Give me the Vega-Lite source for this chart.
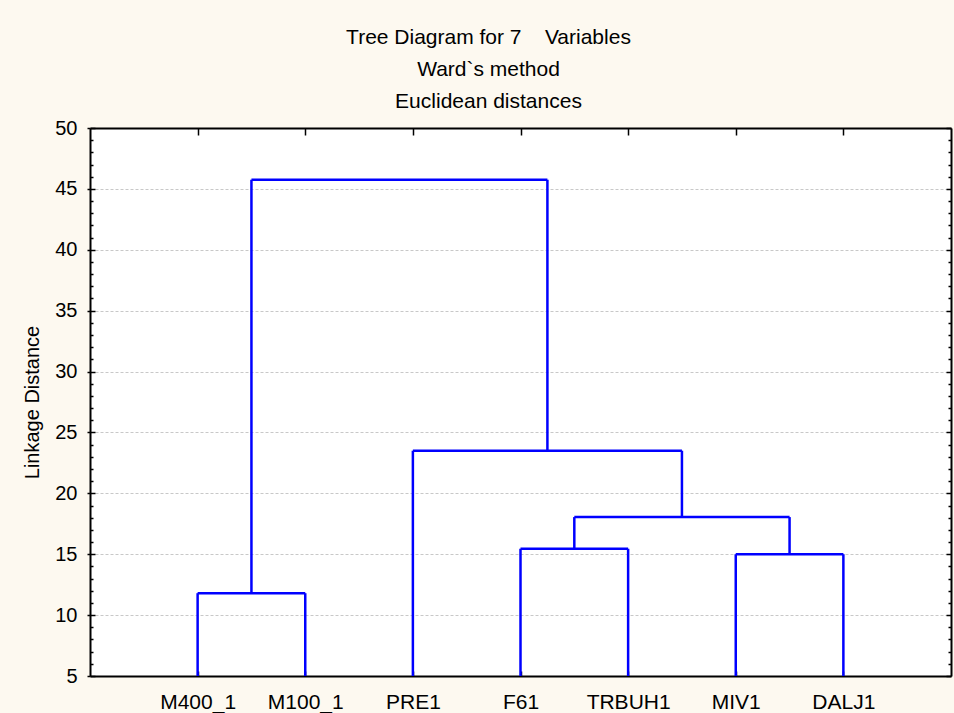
{
  "$schema": "https://vega.github.io/schema/vega-lite/v6.json",
  "width": 861,
  "height": 548,
  "autosize": {"type": "none"},
  "padding": {"left": 90, "top": 128, "right": 3, "bottom": 37},
  "background": "#FDF9F0",
  "config": {
    "view": {"fill": "white", "stroke": null},
    "font": "Liberation Sans",
    "axis": {
      "domainColor": "black",
      "domainWidth": 2,
      "tickColor": "black",
      "tickWidth": 1.5,
      "labelColor": "black",
      "labelFont": "Liberation Sans",
      "labelFontSize": 20,
      "titleFont": "Liberation Sans",
      "titleFontSize": 20,
      "titleFontWeight": "normal",
      "titleColor": "black"
    }
  },
  "title": {
    "text": ["Tree Diagram for 7\u00a0\u00a0\u00a0 Variables", "Ward`s method", "Euclidean distances"],
    "fontSize": 21,
    "fontWeight": "normal",
    "font": "Liberation Sans",
    "color": "black",
    "lineHeight": 32,
    "anchor": "middle",
    "frame": "group",
    "dx": -32,
    "dy": 29,
    "baseline": "alphabetic",
    "offset": 18
  },
  "data": {
    "values": [
      {"left": 1, "right": 2, "height": 11.8, "leftBase": 5, "rightBase": 5},
      {"left": 4, "right": 5, "height": 15.45, "leftBase": 5, "rightBase": 5},
      {"left": 6, "right": 7, "height": 15.0, "leftBase": 5, "rightBase": 5},
      {"left": 4.5, "right": 6.5, "height": 18.05, "leftBase": 15.45, "rightBase": 15.0},
      {"left": 3, "right": 5.5, "height": 23.5, "leftBase": 5, "rightBase": 18.05},
      {"left": 1.5, "right": 4.25, "height": 45.75, "leftBase": 11.8, "rightBase": 23.5}
    ]
  },
  "resolve": {
    "scale": {"x": "shared", "y": "shared"},
    "axis": {"x": "independent", "y": "independent"}
  },
  "layer": [
    {
      "mark": {"type": "rule", "color": "#0000FF", "strokeWidth": 2.5},
      "encoding": {
        "x": {
          "field": "left", "type": "quantitative",
          "scale": {"domain": [0, 8], "nice": false, "zero": false},
          "axis": {
            "orient": "bottom", "values": [1, 2, 3, 4, 5, 6, 7],
            "labelExpr": "['','M400_1','M100_1','PRE1','F61','TRBUH1','MIV1','DALJ1'][datum.value]",
            "ticks": false, "labelPadding": 15, "labelFontSize": 21, "grid": false, "title": null, "domain": true
          }
        },
        "x2": {"field": "right"},
        "y": {
          "field": "height", "type": "quantitative",
          "scale": {"domain": [5, 50], "nice": false, "zero": false},
          "axis": {
            "orient": "left", "values": [5, 10, 15, 20, 25, 30, 35, 40, 45, 50],
            "tickSize": 3, "labelPadding": 10, "grid": true,
            "gridDash": [3, 2], "gridColor": "#c8c8c8", "gridWidth": 1,
            "title": "Linkage Distance", "titlePadding": 12
          }
        }
      }
    },
    {
      "mark": {"type": "rule", "color": "#0000FF", "strokeWidth": 2.5},
      "encoding": {
        "x": {
          "field": "left", "type": "quantitative",
          "scale": {"domain": [0, 8], "nice": false, "zero": false},
          "axis": {
            "orient": "top", "values": [1, 2, 3, 4, 5, 6, 7],
            "tickSize": -7, "labels": false, "grid": false, "title": null, "domain": true
          }
        },
        "y": {
          "field": "leftBase", "type": "quantitative",
          "scale": {"domain": [5, 50], "nice": false, "zero": false},
          "axis": {
            "orient": "left", "values": [5, 10, 15, 20, 25, 30, 35, 40, 45, 50],
            "tickSize": -5, "labels": false, "grid": false, "title": null, "domain": false
          }
        },
        "y2": {"field": "height"}
      }
    },
    {
      "mark": {"type": "rule", "color": "#0000FF", "strokeWidth": 2.5},
      "encoding": {
        "x": {
          "field": "right", "type": "quantitative",
          "scale": {"domain": [0, 8], "nice": false, "zero": false},
          "axis": {
            "orient": "bottom", "values": [1, 2, 3, 4, 5, 6, 7],
            "tickSize": -5, "labels": false, "grid": false, "title": null, "domain": false
          }
        },
        "y": {
          "field": "rightBase", "type": "quantitative",
          "scale": {"domain": [5, 50], "nice": false, "zero": false},
          "axis": {
            "orient": "right", "values": [5, 10, 15, 20, 25, 30, 35, 40, 45, 50],
            "tickSize": -5, "labels": false, "grid": false, "title": null, "domain": true
          }
        },
        "y2": {"field": "height"}
      }
    },
    {
      "mark": {"type": "rule", "opacity": 0},
      "encoding": {
        "x": {"field": "left", "type": "quantitative", "scale": {"domain": [0, 8], "nice": false, "zero": false}, "axis": null},
        "x2": {"field": "right"},
        "y": {
          "field": "height", "type": "quantitative",
          "scale": {"domain": [5, 50], "nice": false, "zero": false},
          "axis": {
            "orient": "left",
            "values": [6, 7, 8, 9, 11, 12, 13, 14, 16, 17, 18, 19, 21, 22, 23, 24, 26, 27, 28, 29, 31, 32, 33, 34, 36, 37, 38, 39, 41, 42, 43, 44, 46, 47, 48, 49],
            "tickSize": -3, "labels": false, "grid": false, "title": null, "domain": false
          }
        }
      }
    },
    {
      "mark": {"type": "rule", "opacity": 0},
      "encoding": {
        "x": {"field": "left", "type": "quantitative", "scale": {"domain": [0, 8], "nice": false, "zero": false}, "axis": null},
        "x2": {"field": "right"},
        "y": {
          "field": "height", "type": "quantitative",
          "scale": {"domain": [5, 50], "nice": false, "zero": false},
          "axis": {
            "orient": "right",
            "values": [6, 7, 8, 9, 11, 12, 13, 14, 16, 17, 18, 19, 21, 22, 23, 24, 26, 27, 28, 29, 31, 32, 33, 34, 36, 37, 38, 39, 41, 42, 43, 44, 46, 47, 48, 49],
            "tickSize": -3, "labels": false, "grid": false, "title": null, "domain": false
          }
        }
      }
    }
  ]
}
